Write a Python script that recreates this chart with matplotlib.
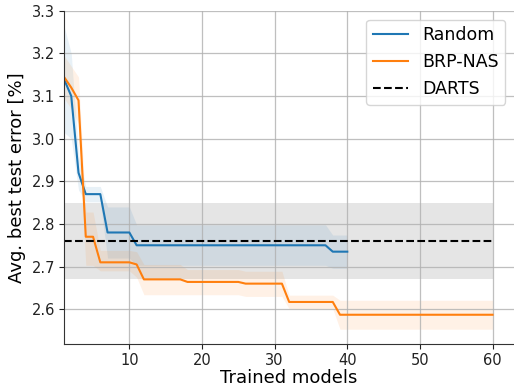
import matplotlib
matplotlib.use("Agg")
import matplotlib.pyplot as plt
import numpy as np

# Random search: mean best error and spread per number of trained models
random_x = list(range(1, 41))
random_mean = [3.14, 3.10, 2.92, 2.87, 2.87, 2.87, 2.78, 2.78, 2.78, 2.78,
               2.75, 2.75, 2.75, 2.75, 2.75, 2.75, 2.75, 2.75, 2.75, 2.75,
               2.75, 2.75, 2.75, 2.75, 2.75, 2.75, 2.75, 2.75, 2.75, 2.75,
               2.75, 2.75, 2.75, 2.75, 2.75, 2.75, 2.75, 2.735, 2.735, 2.735]
random_hi = [3.265, 3.20, 2.96, 2.888, 2.888, 2.888, 2.84, 2.84, 2.84, 2.84,
             2.798, 2.798, 2.798, 2.798, 2.798, 2.798, 2.798, 2.798, 2.798, 2.798,
             2.798, 2.798, 2.798, 2.798, 2.798, 2.798, 2.798, 2.798, 2.798, 2.798,
             2.798, 2.798, 2.798, 2.798, 2.798, 2.798, 2.798, 2.774, 2.774, 2.774]
random_lo = [3.015, 3.00, 2.88, 2.852, 2.852, 2.852, 2.72, 2.72, 2.72, 2.72,
             2.703, 2.703, 2.703, 2.703, 2.703, 2.703, 2.703, 2.703, 2.703, 2.703,
             2.703, 2.703, 2.703, 2.703, 2.703, 2.703, 2.703, 2.703, 2.703, 2.703,
             2.703, 2.703, 2.703, 2.703, 2.703, 2.703, 2.703, 2.696, 2.696, 2.696]

# BRP-NAS: mean best error and spread per number of trained models
brp_x = list(range(1, 61))
brp_mean = [3.145, 3.12, 3.09, 2.77, 2.77, 2.71, 2.71, 2.71, 2.71, 2.71,
            2.705, 2.67, 2.67, 2.67, 2.67, 2.67, 2.67, 2.664, 2.664, 2.664,
            2.664, 2.664, 2.664, 2.664, 2.664, 2.66, 2.66, 2.66, 2.66, 2.66,
            2.66, 2.617, 2.617, 2.617, 2.617, 2.617, 2.617, 2.617, 2.587, 2.587,
            2.587, 2.587, 2.587, 2.587, 2.587, 2.587, 2.587, 2.587, 2.587, 2.587,
            2.587, 2.587, 2.587, 2.587, 2.587, 2.587, 2.587, 2.587, 2.587, 2.587]
brp_hi = [3.195, 3.17, 3.145, 2.828, 2.828, 2.738, 2.738, 2.738, 2.738, 2.738,
          2.735, 2.705, 2.705, 2.705, 2.705, 2.705, 2.705, 2.693, 2.693, 2.693,
          2.693, 2.693, 2.693, 2.693, 2.693, 2.689, 2.689, 2.689, 2.689, 2.689,
          2.689, 2.633, 2.633, 2.633, 2.633, 2.633, 2.633, 2.633, 2.621, 2.621,
          2.621, 2.621, 2.621, 2.621, 2.621, 2.621, 2.621, 2.621, 2.621, 2.621,
          2.621, 2.621, 2.621, 2.621, 2.621, 2.621, 2.621, 2.621, 2.621, 2.621]
brp_lo = [3.095, 3.07, 3.035, 2.703, 2.703, 2.69, 2.69, 2.69, 2.69, 2.69,
          2.675, 2.634, 2.634, 2.634, 2.634, 2.634, 2.634, 2.634, 2.634, 2.634,
          2.634, 2.634, 2.634, 2.634, 2.634, 2.63, 2.63, 2.63, 2.63, 2.63,
          2.63, 2.601, 2.601, 2.601, 2.601, 2.601, 2.601, 2.601, 2.553, 2.553,
          2.553, 2.553, 2.553, 2.553, 2.553, 2.553, 2.553, 2.553, 2.553, 2.553,
          2.553, 2.553, 2.553, 2.553, 2.553, 2.553, 2.553, 2.553, 2.553, 2.553]

# DARTS reference result
darts_x = [1, 60]
darts_mean = 2.76
darts_lo = 2.67
darts_hi = 2.85

fig = plt.figure(figsize=(5.14, 3.88), dpi=100)
ax = fig.add_axes([0.1245, 0.113, 0.8755, 0.859])

ax.fill_between(darts_x, [darts_lo] * 2, [darts_hi] * 2, color="grey", alpha=0.2, linewidth=0)
ax.fill_between(random_x, random_lo, random_hi, color="tab:blue", alpha=0.1, linewidth=0)
ax.fill_between(brp_x, brp_lo, brp_hi, color="tab:orange", alpha=0.1, linewidth=0)

ax.plot(random_x, random_mean, color="tab:blue", lw=1.5, label="Random")
ax.plot(brp_x, brp_mean, color="tab:orange", lw=1.5, label="BRP-NAS")
ax.plot(darts_x, [darts_mean] * 2, color="black", ls="--", lw=1.5, label="DARTS")

ax.set_xlim(1, 62.95)
ax.set_ylim(2.518, 3.30)
ax.set_xticks([10, 20, 30, 40, 50, 60])
ax.set_yticks([2.6, 2.7, 2.8, 2.9, 3.0, 3.1, 3.2, 3.3])
ax.grid(True, color="#b0b0b0", lw=0.9, alpha=0.8)

for side in ("top", "right"):
    ax.spines[side].set_visible(False)
for side in ("left", "bottom"):
    ax.spines[side].set_color("#333333")
ax.tick_params(labelsize=10.5, colors="#222222", length=3.5, pad=3)

ax.set_xlabel("Trained models", fontsize=13, labelpad=0.5)
ax.set_ylabel("Avg. best test error [%]", fontsize=13)
ax.legend(loc="upper right", fontsize=12.5, framealpha=0.8, edgecolor="#cccccc")

fig.savefig("out.png", dpi=100)
